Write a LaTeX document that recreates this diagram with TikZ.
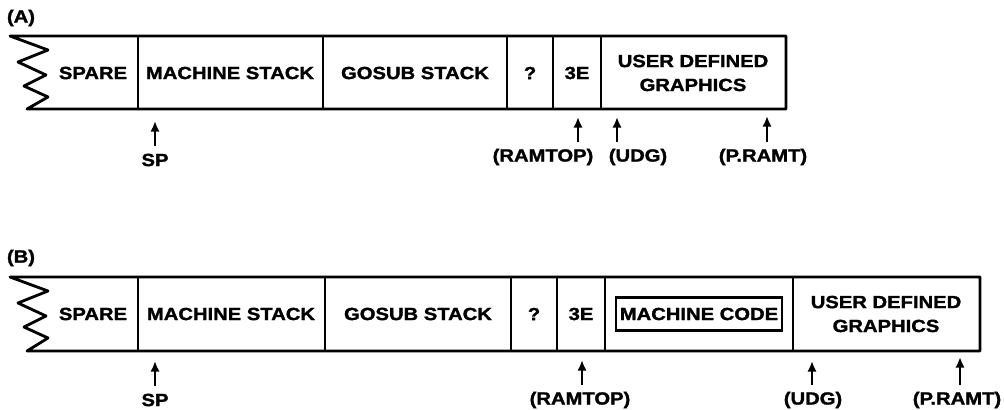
\documentclass[tikz,border=0pt]{standalone}
\usepackage{fontspec}
\setmainfont{Liberation Sans}[FakeStretch=1.15, FakeBold=1.6]
\usetikzlibrary{arrows.meta}
\tikzset{
	memline/.style={line width=2pt, line join=round},
	celltext/.style={font=\fontsize{12.5}{17}\selectfont\bfseries, inner sep=0pt, align=center},
	ptrtext/.style={font=\fontsize{12.5}{17}\selectfont\bfseries, inner sep=0pt},
	ptr/.style={line width=1.6pt, -{Latex[length=7.5pt,width=6.5pt]}}
}
\begin{document}
\begin{tikzpicture}[x=0.025cm, y=-0.025cm]
	\useasboundingbox (0,0) rectangle (1004,409);

	% (A) before
	\node[ptrtext] (labA) at (21,18) {(A)};
	\draw[memline] (786,36) -- (10,36) -- (48,50) -- (18,62) -- (46,75) -- (24,86) -- (48,97) -- (27,109) -- (786,109) -- cycle;
	\foreach \x in {138,323,507,553,601}
		\draw[memline] (\x,36) -- (\x,109);
	\node[celltext] (spareA) at (93,73) {SPARE};
	\node[celltext] (mstackA) at (230,73) {MACHINE STACK};
	\node[celltext] (gstackA) at (415,73) {GOSUB STACK};
	\node[celltext] (qA) at (530,73) {?};
	\node[celltext] (tbA) at (577,73) {3E};
	\node[celltext] (udgcellA) at (693,73) {USER DEFINED\\GRAPHICS};

	\node[ptrtext] (spA) at (155,160) {SP};
	\node[ptrtext] (ramA) at (543,157) {(RAMTOP)};
	\node[ptrtext] (udgA) at (638,157) {(UDG)};
	\node[ptrtext] (prA) at (763,157) {(P.RAMT)};
	\coordinate (spAh) at (155,121);
	\coordinate (ramAh) at (578,117);
	\coordinate (udgAh) at (617,117);
	\coordinate (prAh) at (767,116);
	\draw[ptr] ([yshift=5pt]spA.north -| spAh) -- (spAh);
	\draw[ptr] ([yshift=5pt]ramA.north -| ramAh) -- (ramAh);
	\draw[ptr] ([yshift=5pt]udgA.north -| udgAh) -- (udgAh);
	\draw[ptr] ([yshift=5pt]prA.north -| prAh) -- (prAh);

	% (B) after
	\node[ptrtext] (labB) at (21,258) {(B)};
	\draw[memline] (980,277) -- (10,277) -- (48,291) -- (18,303) -- (46,316) -- (24,327) -- (48,338) -- (27,351) -- (980,351) -- cycle;
	\foreach \x in {138,325,511,557,605,793}
		\draw[memline] (\x,277) -- (\x,351);
	\node[celltext] (spareB) at (93,314) {SPARE};
	\node[celltext] (mstackB) at (231,314) {MACHINE STACK};
	\node[celltext] (gstackB) at (418,314) {GOSUB STACK};
	\node[celltext] (qB) at (534,314) {?};
	\node[celltext] (tbB) at (581,314) {3E};
	\node[celltext, draw, line width=2pt, minimum width=166*0.025cm, minimum height=33*0.025cm] (mcodeB) at (699,314) {MACHINE CODE};
	\node[celltext] (udgcellB) at (886,314) {USER DEFINED\\GRAPHICS};

	\node[ptrtext] (spB) at (155,400) {SP};
	\node[ptrtext] (ramB) at (580,400) {(RAMTOP)};
	\node[ptrtext] (udgB) at (813,400) {(UDG)};
	\node[ptrtext] (prB) at (957,400) {(P.RAMT)};
	\coordinate (spBh) at (155,361);
	\coordinate (ramBh) at (582,360);
	\coordinate (udgBh) at (812,361);
	\coordinate (prBh) at (960,357);
	\draw[ptr] ([yshift=5pt]spB.north -| spBh) -- (spBh);
	\draw[ptr] ([yshift=5pt]ramB.north -| ramBh) -- (ramBh);
	\draw[ptr] ([yshift=5pt]udgB.north -| udgBh) -- (udgBh);
	\draw[ptr] ([yshift=5pt]prB.north -| prBh) -- (prBh);
\end{tikzpicture}
\end{document}
